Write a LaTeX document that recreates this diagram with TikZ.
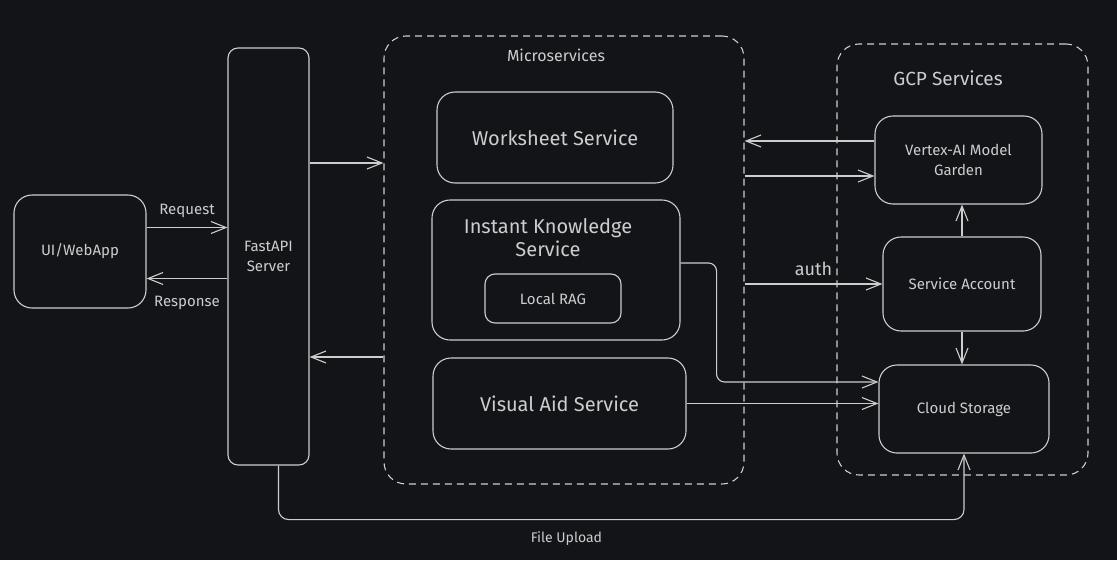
\documentclass[tikz,border=0pt]{standalone}
\usepackage{fontspec}
\setmainfont{Fira Sans}
\usetikzlibrary{arrows.meta}
\definecolor{bg}{RGB}{18,20,24}
\definecolor{ln}{RGB}{205,205,205}
\begin{document}
\begin{tikzpicture}
  [x=1pt,y=-1pt,line width=1.1pt,
   every node/.style={text=ln,align=center,font=\fontsize{15}{20}\selectfont},
   box/.style={draw=ln,rounded corners=18pt,inner sep=0pt},
   group/.style={draw=ln,dash pattern=on 7pt off 5pt,rounded corners=22pt,inner sep=0pt},
   arr/.style={draw=ln,-{Straight Barb[length=15pt,width=12pt,line width=1.1pt]}},
   big/.style={font=\fontsize{20}{23}\selectfont}]
\fill[bg] (0,0) rectangle (1117,560);
\useasboundingbox (0,0) rectangle (1117,560);

\node (ui)[box,minimum width=132pt,minimum height=113pt] at (80,251.5) {UI/WebApp};
\node (api)[box,rounded corners=10pt,minimum width=81pt,minimum height=417pt] at (268.5,256.5) {FastAPI\\Server};

\node (micro)[group,minimum width=360pt,minimum height=448pt] at (564,260) {};
\node (mlbl)[font=\fontsize{16}{19}\selectfont] at (556,55) {Microservices};
\node (ws)[box,big,minimum width=236pt,minimum height=91pt] at (555,137.5) {Worksheet Service};
\node (ik)[box,minimum width=248pt,minimum height=140pt] at (556,270) {};
\node (iklbl)[big] at (548,238) {Instant Knowledge\\Service};
\node (rag)[box,rounded corners=10pt,minimum width=136pt,minimum height=49pt] at (553,298.5) {Local RAG};
\node (va)[box,big,minimum width=253pt,minimum height=91pt] at (559.5,403.5) {Visual Aid Service};

\node (gcp)[group,minimum width=251pt,minimum height=431pt] at (962.5,259.5) {};
\node (glbl)[font=\fontsize{19}{22}\selectfont] at (948,78) {GCP Services};
\node (vx)[box,minimum width=167pt,minimum height=88pt] at (958.5,160) {Vertex-AI Model\\Garden};
\node (sa)[box,minimum width=158pt,minimum height=94pt] at (962,284) {Service Account};
\node (cs)[box,minimum width=170pt,minimum height=88pt] at (964,409) {Cloud Storage};

\draw[arr] ([yshift=24pt]ui.east) -- node (req)[above=6pt]{Request} ([yshift=24pt]ui.east -| api.west);
\draw[arr] ([yshift=-27pt]ui.east -| api.west) -- node (resp)[below=14pt]{Response} ([yshift=-27pt]ui.east);
\draw[arr] ([yshift=93.5pt]api.east) -- ([yshift=93.5pt]api.east -| micro.west);
\draw[arr] ([yshift=-100.5pt]api.east -| micro.west) -- ([yshift=-100.5pt]api.east);
\draw[arr] ([yshift=19pt]vx.west) -- ([yshift=19pt]vx.west -| micro.east);
\draw[arr] ([yshift=-16pt]vx.west -| micro.east) -- ([yshift=-16pt]vx.west);
\draw[arr] (micro.east |- sa.west) -- node (auth)[above=4pt,font=\fontsize{18}{21}\selectfont]{auth} (sa.west);
\draw[arr] (sa.north) -- (sa.north |- vx.south);
\draw[arr] (sa.south) -- (sa.south |- cs.north);
\draw[arr,rounded corners=8pt] ([yshift=7pt]ik.east) -- ++(36,0) |- ([yshift=27pt]cs.west);
\draw[arr] (va.east) -- (va.east -| cs.west);
\draw[arr,rounded corners=10pt] ([xshift=10pt]api.south) -- ++(0,54)
  -| node (upl)[pos=0.21,below=8pt,font=\fontsize{14}{17}\selectfont]{File Upload} (cs.south);
\end{tikzpicture}
\end{document}
